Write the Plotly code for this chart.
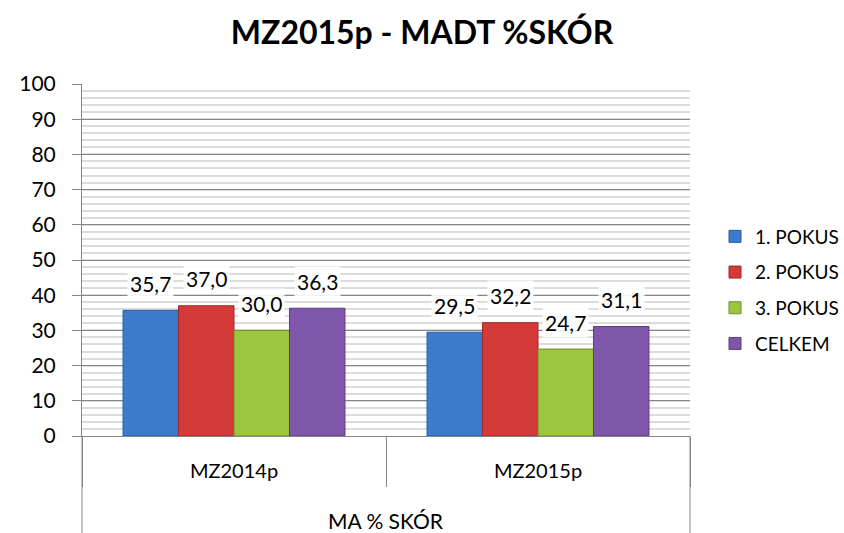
import plotly.graph_objects as go

outer_label = "MA % SKÓR"
categories = ["MZ2014p", "MZ2015p"]
series_names = ["1. POKUS", "2. POKUS", "3. POKUS", "CELKEM"]
pokus1 = [35.7, 29.5]
pokus2 = [37.0, 32.2]
pokus3 = [30.0, 24.7]
celkem = [36.3, 31.1]
y_ticks = list(range(0, 101, 10))

colors = ["#3b7bcc", "#d43b38", "#9cc63d", "#7e57ab"]
edges = ["#2a5a96", "#9c2a28", "#6f8f2a", "#5a3e7c"]

FONT = "Lato"
BARGAP = 0.27
all_series = [pokus1, pokus2, pokus3, celkem]
n = len(all_series)
W, H = 844, 533
L, R, T, B = 82, 154, 84, 97
PW, PH = W - L - R, H - T - B

fig = go.Figure()
for name, vals, c, e in zip(series_names, all_series, colors, edges):
    fig.add_trace(go.Bar(
        name=name,
        x=categories,
        y=vals,
        marker=dict(color=c, line=dict(color=e, width=1)),
        legendgroup=name,
    ))

# data labels placed at the bar centres computed from the group layout
bw = (1 - BARGAP) / n
for i, vals in enumerate(all_series):
    for ci, v in enumerate(vals):
        xc = ci - (1 - BARGAP) / 2 + (i + 0.5) * bw
        fig.add_annotation(
            x=xc, y=v, xref="x", yref="y",
            text=f"{v:.1f}".replace(".", ","),
            showarrow=False, yanchor="middle", yshift=27,
            font=dict(size=21, family=FONT, color="#000000"),
            bgcolor="rgba(255,255,255,0.9)", borderpad=2,
        )

fig.add_annotation(
    x=0.5, y=-(520 - (H - B)) / PH, xref="paper", yref="paper",
    text=outer_label, showarrow=False, yanchor="middle",
    font=dict(size=21, family=FONT, color="#000000"),
)
for xp in (0, 1):
    fig.add_shape(type="line", xref="paper", yref="paper",
                  x0=xp, x1=xp, y0=0, y1=-B / PH,
                  line=dict(color="#868686", width=1))

fig.update_layout(
    width=W, height=H,
    margin=dict(l=L, r=R, t=T, b=B, autoexpand=False),
    paper_bgcolor="white", plot_bgcolor="white",
    barmode="group", bargap=BARGAP, bargroupgap=0,
    separators=", ",
    title=dict(text="<b>MZ2015p - MADT %SKÓR</b>", x=0.5, xanchor="center",
               y=1 - 33 / H, yanchor="middle",
               font=dict(size=32, family=FONT, color="#000000")),
    font=dict(family=FONT, color="#000000"),
    legend=dict(x=(W - L) / PW, xanchor="right",
                y=((H - B) - 290) / PH, yanchor="middle",
                font=dict(size=19, family=FONT), tracegroupgap=8,
                itemwidth=30, bgcolor="rgba(0,0,0,0)"),
    showlegend=True,
)
fig.update_yaxes(
    range=[0, 100], tickvals=y_ticks, ticks="outside", ticklen=9,
    tickcolor="#868686", showline=True, linecolor="#868686", linewidth=1,
    gridcolor="#868686", gridwidth=1,
    tickfont=dict(size=21, family=FONT, color="#000000"),
    ticklabelstandoff=12,
    minor=dict(dtick=2, showgrid=True, gridcolor="#dcdcdc", gridwidth=2),
    zeroline=False, automargin=False,
)
fig.update_xaxes(
    type="category",
    showline=True, linecolor="#868686", linewidth=1,
    ticks="outside", tickson="boundaries", ticklen=50, tickcolor="#868686",
    tickfont=dict(size=20, family=FONT, color="#000000"),
    ticklabelstandoff=17, automargin=False,
)
fig.write_html("out.html", config={"displayModeBar": False},
               post_script="document.body.style.margin='0';")
